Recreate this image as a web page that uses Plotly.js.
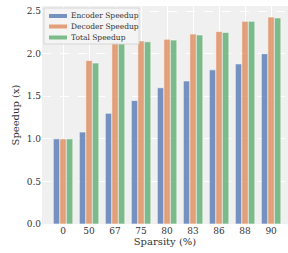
<!DOCTYPE html>
<html><head><meta charset="utf-8">
<script src="https://cdn.plot.ly/plotly-3.0.1.min.js"></script>
<style>html,body{margin:0;padding:0;background:#fff}#c{width:288px;height:253px}</style>
</head><body><div id="c"></div>
<script>
const categories = ["0","50","67","75","80","83","86","88","90"];
const encoderSpeedup = [1.00,1.08,1.30,1.45,1.60,1.68,1.81,1.88,2.00];
const decoderSpeedup = [1.00,1.92,2.13,2.15,2.17,2.23,2.26,2.38,2.43];
const totalSpeedup  = [1.00,1.89,2.12,2.14,2.16,2.22,2.25,2.38,2.42];
const seriesNames = ["Encoder Speedup","Decoder Speedup","Total Speedup"];
const colors = ["#4C72B0","#DD8452","#55A868"];
const font = "DejaVu Serif, serif";
const series=[encoderSpeedup,decoderSpeedup,totalSpeedup];
const data = series.map((v,i)=>({
  type:"bar", x:categories, y:v, name:seriesNames[i], showlegend:false,
  marker:{color:colors[i], opacity:0.75, line:{color:"#ffffff", width:0.6}}
}));
// manual legend (matplotlib-style compact legend)
const W=246, H=218;
const px=x=>(x-42)/W, py=y=>(224-y)/H;
const shapes=[{type:"rect",xref:"paper",yref:"paper",x0:px(44),x1:px(139),y0:py(44),y1:py(8),
  fillcolor:"rgba(245,245,245,0.85)",line:{color:"#d6d6d6",width:1},layer:"above"}];
const annotations=[];
const rows=[16,26.5,37.5];
seriesNames.forEach((n,i)=>{
  shapes.push({type:"rect",xref:"paper",yref:"paper",x0:px(49),x1:px(67),y0:py(rows[i]+2),y1:py(rows[i]-2),
    fillcolor:colors[i],opacity:0.75,line:{width:0},layer:"above"});
  annotations.push({xref:"paper",yref:"paper",x:px(69),y:py(rows[i]),xanchor:"left",yanchor:"middle",
    text:n,showarrow:false,font:{family:font,size:7.5,color:"#333"}});
});
const layout = {
  width:288, height:253,
  margin:{l:42, r:0, t:6, b:29},
  paper_bgcolor:"#ffffff", plot_bgcolor:"#f0f0f0",
  barmode:"group", bargap:0.25, bargroupgap:0,
  font:{family:font, size:9, color:"#333"},
  showlegend:false, shapes, annotations,
  xaxis:{type:"category", range:[-0.81,8.65], showgrid:true, gridcolor:"#ffffff", gridwidth:1,
    zeroline:false, showline:false, ticks:"", ticklen:0,
    tickfont:{family:font,size:9,color:"#333"},
    title:{text:"Sparsity (%)", font:{family:font,size:10,color:"#333"}, standoff:1}},
  yaxis:{range:[0,2.56], tickvals:[0,0.5,1,1.5,2,2.5], ticktext:["0.0","0.5","1.0","1.5","2.0","2.5"],
    showgrid:true, gridcolor:"#ffffff", gridwidth:1, griddash:"dash",
    zeroline:false, showline:false, ticks:"",
    tickfont:{family:font,size:9,color:"#333"},
    title:{text:"Speedup (x)", font:{family:font,size:10,color:"#333"}, standoff:5}}
};
Plotly.newPlot("c", data, layout, {displayModeBar:false, staticPlot:true});
</script></body></html>
